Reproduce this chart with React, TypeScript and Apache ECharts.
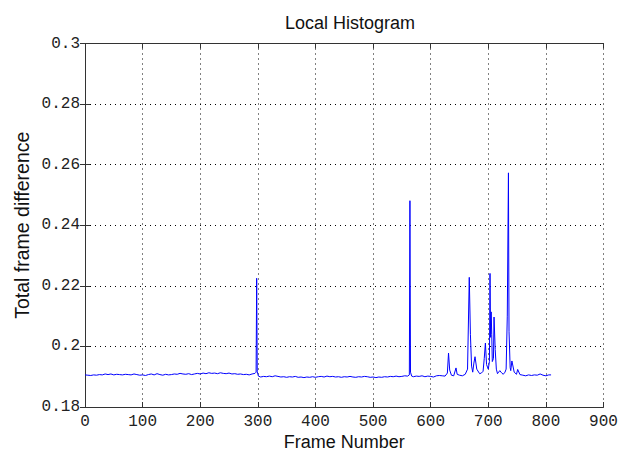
import React, { useEffect, useRef } from "react";
import * as echarts from "echarts";

const title = "Local Histogram";
const xName = "Frame Number";
const yName = "Total frame difference";
const xTicks = [0, 900, 100];
const yTicks = [0.18, 0.3, 0.02];

const frames = [
  0, 5, 10, 15, 20, 25, 30, 35, 40, 45, 50, 55, 60, 65, 70, 75, 80, 85, 90, 95,
  100, 105, 110, 115, 120, 125, 130, 135, 140, 145, 150, 155, 160, 165, 170, 175, 180, 185, 190, 195,
  200, 205, 210, 215, 220, 225, 230, 235, 240, 245, 250, 255, 260, 265, 270, 275, 280, 285, 290, 295,
  297, 298, 299, 301, 305, 310, 315, 320, 325, 330, 335, 340, 345, 350, 355, 360, 365, 370, 375, 380,
  385, 390, 395, 400, 405, 410, 415, 420, 425, 430, 435, 440, 445, 450, 455, 460, 465, 470, 475, 480,
  485, 490, 495, 500, 505, 510, 515, 520, 525, 530, 535, 540, 545, 550, 555, 560, 563, 564, 565, 567,
  570, 575, 580, 585, 590, 595, 600, 605, 610, 615, 620, 625, 629, 631, 633, 636, 640, 644, 646, 650,
  655, 660, 664, 667, 669, 671, 673, 675, 677, 680, 685, 688, 691, 693, 695, 697, 700, 702, 703, 704,
  705, 706, 707, 709, 710, 712, 714, 716, 718, 720, 723, 726, 729, 731, 733, 735, 736, 738, 739, 741,
  745, 749, 751, 755, 760, 765, 770, 775, 780, 785, 790, 795, 800, 805, 809,
];

const values = [
  0.1906, 0.1905, 0.1904, 0.1906, 0.1905, 0.1907, 0.1906, 0.1909, 0.1907, 0.1909, 0.1906, 0.1908, 0.1907, 0.1906, 0.1908, 0.1907, 0.1906, 0.1909, 0.1907, 0.1905,
  0.1906, 0.1904, 0.1907, 0.1909, 0.1906, 0.1910, 0.1907, 0.1905, 0.1908, 0.1906, 0.1907, 0.1909, 0.1908, 0.1911, 0.1909, 0.1908, 0.1910, 0.1907, 0.1909, 0.1911,
  0.1909, 0.1912, 0.1910, 0.1913, 0.1911, 0.1912, 0.1910, 0.1913, 0.1911, 0.1910, 0.1912, 0.1909, 0.1910, 0.1908, 0.1909, 0.1907, 0.1908, 0.1906, 0.1909, 0.1911,
  0.1915, 0.2225, 0.1916, 0.1902, 0.1899, 0.1901, 0.1900, 0.1902, 0.1900, 0.1903, 0.1901, 0.1899, 0.1900, 0.1898, 0.1900, 0.1899, 0.1901, 0.1898, 0.1899, 0.1897,
  0.1899, 0.1898, 0.1900, 0.1898, 0.1900, 0.1901, 0.1899, 0.1902, 0.1900, 0.1901, 0.1899, 0.1900, 0.1898, 0.1900, 0.1899, 0.1901, 0.1899, 0.1898, 0.1900, 0.1899,
  0.1901, 0.1900, 0.1898, 0.1899, 0.1897, 0.1899, 0.1898, 0.1900, 0.1899, 0.1901, 0.1900, 0.1902, 0.1900, 0.1901, 0.1903, 0.1902, 0.1906, 0.2481, 0.1915, 0.1902,
  0.1900, 0.1902, 0.1901, 0.1903, 0.1900, 0.1902, 0.1901, 0.1899, 0.1903, 0.1904, 0.1903, 0.1902, 0.1912, 0.1978, 0.1922, 0.1905, 0.1903, 0.1929, 0.1908, 0.1905,
  0.1903, 0.1908, 0.1925, 0.2228, 0.2040, 0.1935, 0.1915, 0.1945, 0.1966, 0.1925, 0.1910, 0.1912, 0.1918, 0.1960, 0.2011, 0.1940, 0.1925, 0.1950, 0.2241, 0.2030,
  0.2114, 0.2040, 0.1950, 0.1960, 0.2097, 0.1990, 0.1925, 0.1910, 0.1915, 0.1920, 0.1913, 0.1908, 0.1915, 0.1925, 0.2100, 0.2573, 0.2050, 0.1930, 0.1920, 0.1952,
  0.1915, 0.1908, 0.1924, 0.1907, 0.1905, 0.1903, 0.1906, 0.1904, 0.1906, 0.1905, 0.1909, 0.1905, 0.1903, 0.1906, 0.1906,
];

const gridStyle = { show: true, lineStyle: { color: "#000", type: [1, 4] as number[], width: 1 } };
const lineColor = "#333";

export default function App() {
  const ref = useRef<HTMLDivElement>(null);
  useEffect(() => {
    if (!ref.current) return;
    const chart = echarts.init(ref.current, null, { renderer: "svg" });
    const data = frames.map((f, i) => [f, values[i]]);
    const tickFont = { fontFamily: "Liberation Mono", fontSize: 16, lineHeight: 16, color: "#222" };
    chart.setOption({
      animation: false,
      backgroundColor: "#fff",
      title: {
        text: title,
        left: 345,
        top: 9,
        textAlign: "center",
        textStyle: { fontFamily: "Liberation Sans", fontSize: 18, fontWeight: "normal", color: "#111" },
      },
      grid: { left: 85, right: 29.5, top: 43.5, bottom: 45, containLabel: false, outerBoundsMode: "none" },
      xAxis: [
        {
          type: "value",
          min: xTicks[0],
          max: xTicks[1],
          interval: xTicks[2],
          name: xName,
          nameLocation: "middle",
          nameGap: 26,
          nameMoveOverlap: false,
          nameTextStyle: { fontFamily: "Liberation Sans", fontSize: 18, lineHeight: 18, color: "#111" },
          axisLine: { show: true, lineStyle: { color: lineColor, width: 1 } },
          axisTick: { show: true, inside: true, length: 5, lineStyle: { color: lineColor } },
          axisLabel: { ...tickFont, margin: 7 },
          splitLine: gridStyle,
        },
        {
          type: "value",
          position: "top",
          min: xTicks[0],
          max: xTicks[1],
          interval: xTicks[2],
          axisLine: { show: true, lineStyle: { color: lineColor, width: 1 } },
          axisTick: { show: true, inside: true, length: 5, lineStyle: { color: lineColor } },
          axisLabel: { show: false },
          splitLine: { show: false },
        },
      ],
      yAxis: [
        {
          type: "value",
          min: yTicks[0],
          max: yTicks[1],
          interval: yTicks[2],
          name: yName,
          nameLocation: "middle",
          nameRotate: 90,
          nameGap: 53,
          nameMoveOverlap: false,
          nameTextStyle: { fontFamily: "Liberation Sans", fontSize: 19.5, color: "#111" },
          axisLine: { show: true, lineStyle: { color: lineColor, width: 1 } },
          axisTick: { show: true, inside: true, length: 5, lineStyle: { color: lineColor } },
          axisLabel: {
            ...tickFont,
            margin: 5,
            formatter: (v: number) => String(Math.round(v * 100) / 100),
          },
          splitLine: gridStyle,
        },
        {
          type: "value",
          position: "right",
          min: yTicks[0],
          max: yTicks[1],
          interval: yTicks[2],
          axisLine: { show: true, lineStyle: { color: lineColor, width: 1 } },
          axisTick: { show: true, inside: true, length: 5, lineStyle: { color: lineColor } },
          axisLabel: { show: false },
          splitLine: { show: false },
        },
      ],
      series: [
        {
          type: "line",
          data,
          showSymbol: false,
          symbol: "none",
          lineStyle: { color: "#0000ff", width: 1 },
          itemStyle: { color: "#0000ff" },
        },
      ],
    });
    return () => chart.dispose();
  }, []);
  return (
    <div
      ref={ref}
      style={{ position: "fixed", left: 0, top: 0, width: 633, height: 452 }}
    />
  );
}
